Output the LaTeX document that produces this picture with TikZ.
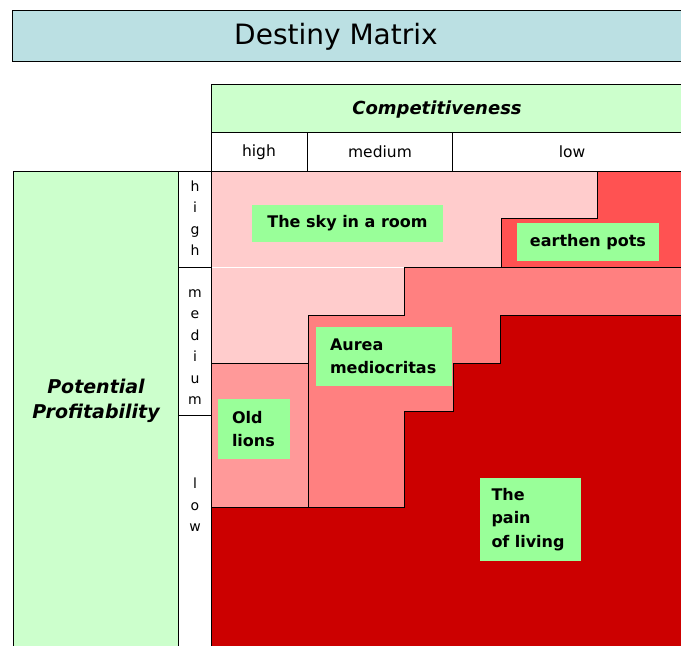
\documentclass[tikz,border=0pt]{standalone}
\usepackage{fontspec}
\setmainfont{DejaVu Sans}
\definecolor{titleblue}{RGB}{187,224,227}
\definecolor{headgreen}{RGB}{204,255,204}
\definecolor{labgreen}{RGB}{153,255,153}
\definecolor{lightpink}{RGB}{255,204,204}
\definecolor{brightred}{RGB}{255,82,82}
\definecolor{salmon}{RGB}{255,128,128}
\definecolor{oldpink}{RGB}{255,153,153}
\definecolor{darkred}{RGB}{204,0,0}
\begin{document}
\begin{tikzpicture}[x=1pt,y=-1pt,
  boxline/.style={draw=black,line width=1pt},
  edge/.style={draw=black,line width=1pt},
  lab/.style={fill=labgreen,inner sep=0pt,font=\bfseries\fontsize{16}{23.5}\selectfont,text=black},
  hdr/.style={font=\fontsize{15.5}{18}\selectfont,inner sep=0pt},
  vlet/.style={font=\fontsize{14}{21.5}\selectfont,align=center,inner sep=0pt}]
\useasboundingbox (0,0) rectangle (681,646);
\clip (0,0) rectangle (681,646);
% title
\path[fill=titleblue,boxline] (12,10) rectangle (700,61);
\node[font=\fontsize{28}{32}\selectfont] (title) at (336,37) {Destiny Matrix};
% competitiveness header
\path[fill=headgreen,boxline] (211,84) rectangle (700,132);
\node[font=\bfseries\itshape\fontsize{18}{20}\selectfont] (comp) at (437,110) {Competitiveness};
\path[fill=white,boxline] (211,132) rectangle (700,171);
\draw[boxline] (307,132) -- (307,171);
\draw[boxline] (452,132) -- (452,171);
\node[hdr] (chigh) at (259,152) {high};
\node[hdr] (cmed) at (380,152) {medium};
\node[hdr] (clow) at (572,152) {low};
% left panel
\path[fill=headgreen,boxline] (13,171) rectangle (178,660);
\node[font=\bfseries\itshape\fontsize{19}{25}\selectfont,align=center] (prof) at (96,401) {Potential\\Profitability};
\path[fill=white,boxline] (178,171) rectangle (211,660);
\draw[boxline] (178,267) -- (211,267);
\draw[boxline] (178,415) -- (211,415);
\node[vlet] (rhigh) at (195,218) {h\\i\\g\\h};
\node[vlet] (rmed) at (195,347) {m\\e\\d\\i\\u\\m};
\node[vlet] (rlow) at (195,505) {l\\o\\w};
% matrix regions
\fill[lightpink] (211,171) rectangle (700,660);
\fill[brightred] (597,171) -- (700,171) -- (700,267) -- (501,267) -- (501,218) -- (597,218) -- cycle;
\fill[salmon] (404,267) -- (700,267) -- (700,660) -- (308,660) -- (308,315) -- (404,315) -- cycle;
\fill[oldpink] (211,363) rectangle (308,507);
\fill[darkred] (500,315) -- (700,315) -- (700,660) -- (211,660) -- (211,507) -- (404,507) -- (404,411) -- (453,411) -- (453,363) -- (500,363) -- cycle;
% borders
\draw[edge] (597,171) -- (597,218) -- (501,218) -- (501,267);
\draw[white,line width=1pt] (212,267) -- (404,267);
\draw[edge] (700,267) -- (404,267) -- (404,315) -- (308,315) -- (308,507);
\draw[edge] (211,363) -- (308,363);
\draw[edge] (700,315) -- (500,315) -- (500,363) -- (453,363) -- (453,411) -- (404,411) -- (404,507) -- (211,507);
\draw[boxline] (211,171) -- (211,660);
\draw[boxline] (211,171) -- (700,171);
% labels
\node[lab,minimum width=191pt,minimum height=37pt] (sky) at (347.5,223.5) {The sky in a room};
\node[lab,minimum width=142pt,minimum height=38pt] (pots) at (588,242) {earthen pots};
\node[lab,minimum width=136pt,minimum height=59pt,text width=108pt,align=left] (aurea) at (384,356.5) {Aurea\\mediocritas};
\node[lab,minimum width=72pt,minimum height=60pt,text width=44pt,align=left] (lions) at (254,429) {Old\\lions};
\node[lab,minimum width=101pt,minimum height=83pt,text width=78pt,align=left] (pain) at (530.5,519.5) {The\\pain\\\mbox{of living}};
\end{tikzpicture}
\end{document}
